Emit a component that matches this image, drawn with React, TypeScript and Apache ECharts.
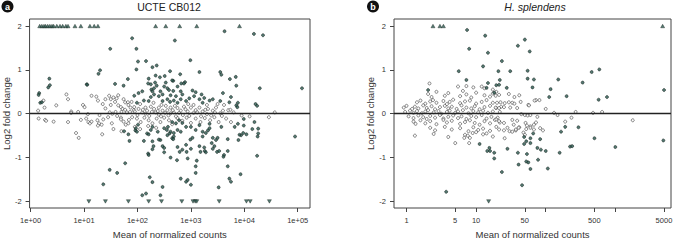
import React, { useEffect, useRef } from "react";
import * as echarts from "echarts";

// ---------- Panel a: UCTE CB012 (x = log10 mean of normalized counts, y = log2 fold change)
const aUpLogMean = [0.17, 0.21, 0.25, 0.28, 0.32, 0.36, 0.4, 0.43, 0.49, 0.55, 0.6, 0.66, 0.7, 0.83, 0.94, 1.11, 1.19, 1.26, 2.34, 2.53, 2.79, 3.11, 3.91];
const aDownLogMean = [1.09, 1.4, 1.83, 2.21, 2.45, 2.83, 3.04, 3.08, 3.11, 3.53, 4.04, 4.11, 4.47];
const aSig: number[][] = [
  [1.9, 1.72], [1.49, 1.48], [1.98, 1.48], [2.7, 1.67], [3.63, 1.88], [4.18, 1.82], [4.35, 1.79], [2.99, 1.22], [2.01, 1.19], [2.16, 1.2],
  [1.3, 0.99], [1.27, 0.91], [1.98, 1.01], [2.28, 1.06], [2.36, 1.1], [2.61, 0.97], [3.16, 0.95], [3.55, 0.95], [3.57, 0.89], [0.35, 0.8],
  [0.36, 0.65], [0.33, 0.6], [1.05, 0.67], [3.84, 0.84], [3.73, 0.79], [3.85, 0.64], [4.29, 0.58], [5.08, 0.58], [0.16, 0.47], [0.15, 0.43],
  [0.18, 0.25], [0.21, 0.26], [4.21, 0.22], [2.21, 0.8], [2.25, 0.67], [2.42, 0.83], [2.51, 0.86], [2.67, 0.75], [2.89, 0.72], [1.82, 0.79],
  [1.58, 0.68], [2.82, 0.69], [2.34, 0.87], [2.65, 0.76], [2.8, 0.9], [2.2, 0.69], [2.33, 0.71], [2.36, 0.64], [2.31, 0.58], [2.26, 0.55],
  [2.53, 0.71], [2.5, 0.62], [2.56, 0.58], [2.59, 0.54], [2.75, 0.62], [2.81, 0.51], [2.84, 0.44], [2.87, 0.69], [2.09, 0.51], [2.02, 0.47],
  [2.28, 0.51], [2.31, 0.44], [2.25, 0.38], [2.43, 0.51], [2.47, 0.44], [2.4, 0.4], [2.67, 0.52], [2.62, 0.42], [2.72, 0.4], [3.03, 0.53],
  [3.09, 0.49], [3.06, 0.4], [3.2, 0.44], [3.25, 0.36], [3.41, 0.33], [3.35, 0.3], [3.6, 0.47], [3.75, 0.38], [3.55, 0.29], [3.16, 0.33],
  [3.22, 0.25], [2.97, 0.35], [2.91, 0.29], [2.81, 0.33], [2.75, 0.25], [2.68, 0.3], [2.56, 0.33], [2.61, 0.27], [2.47, 0.29], [2.12, 0.3],
  [2.21, 0.29], [1.06, 0.66], [1.74, 0.64], [1.94, 0.41], [1.99, 0.25], [3.72, 0.26], [3.88, 0.25], [3.85, 0.19], [3.87, 0.15], [4.24, 0.18],
  [1.75, -0.4], [1.83, -0.47], [1.85, -0.62], [1.96, -0.38], [1.99, -0.41], [1.97, -0.33], [2.01, -0.25], [1.77, -1.13], [1.48, -1.28], [1.62, -1.35],
  [1.36, -1.61], [2.12, -0.62], [2.18, -0.45], [2.21, -0.47], [2.2, -0.91], [2.28, -0.63], [2.3, -0.74], [2.38, -0.41], [2.43, -0.6], [2.47, -0.74],
  [2.5, -0.78], [2.56, -0.49], [2.6, -0.45], [2.65, -0.56], [2.68, -0.52], [2.75, -0.76], [2.79, -0.87], [2.84, -0.82], [2.91, -0.71], [2.92, -0.87],
  [2.62, -1.0], [2.74, -1.06], [2.94, -1.02], [3.0, -0.8], [3.09, -1.2], [3.11, -1.07], [3.16, -0.74], [3.18, -0.87], [3.26, -0.85], [3.39, -0.67],
  [3.44, -0.74], [3.47, -0.6], [3.5, -0.55], [3.49, -0.87], [3.62, -0.94], [3.61, -0.98], [3.69, -0.85], [3.69, -1.2], [3.72, -1.48], [3.75, -1.55],
  [3.89, -0.6], [3.94, -0.49], [4.04, -0.47], [3.93, -1.38], [4.24, -0.96], [4.25, -0.52], [4.26, -0.45], [4.95, -0.52], [2.81, -1.48], [2.91, -1.55],
  [2.94, -1.51], [3.0, -1.62], [3.09, -1.35], [3.52, -1.68], [2.23, -1.45], [2.28, -1.56], [2.16, -1.82], [2.09, -1.86], [2.43, -1.86], [2.47, -1.67],
  [3.22, -0.52], [3.32, -0.38], [3.35, -0.23], [3.82, -0.3], [3.88, -0.23], [4.19, -0.19], [4.26, -0.34], [3.99, -0.12], [3.99, -0.27], [4.15, -0.35],
  [3.98, -0.44], [3.69, -0.58], [2.25, -0.37], [2.28, -0.3], [2.4, -0.59], [2.5, -0.33], [2.55, -0.37], [2.57, -0.3], [2.65, -0.19], [2.72, -0.22],
  [2.78, -0.15], [2.84, -0.21], [2.62, -0.41], [2.68, -0.44], [2.75, -0.37], [2.81, -0.41], [2.91, -0.3], [2.67, -0.58], [3.0, -0.3], [3.09, -0.37],
  [3.16, -0.26], [3.22, -0.41], [3.28, -0.44], [3.35, -0.33], [3.41, -0.55], [3.57, -0.3], [3.91, -0.48], [2.99, -0.59], [3.03, -0.55], [2.28, -0.81],
  [2.5, -0.88], [3.25, -0.77], [3.28, -0.88], [3.41, -0.8], [3.53, -0.85], [2.21, -0.94],
];
const aNs: number[][] = [
  [0.24, 0.3], [0.26, 0.14], [0.48, 0.19], [0.67, 0.44], [0.7, 0.33], [1.14, 0.41], [1.23, 0.39], [1.26, 0.3], [0.98, 0.2], [1.01, 0.15],
  [0.76, 0.05], [0.76, 0.02], [0.89, 0.04], [1.07, -0.01], [1.29, -0.03], [1.47, 0.41], [1.5, 0.33], [1.55, 0.37], [1.4, 0.33], [1.64, 0.42],
  [1.61, 0.35], [1.58, 0.27], [1.74, 0.33], [1.77, 0.26], [1.82, 0.26], [1.64, 0.19], [1.69, 0.15], [1.72, 0.11], [1.48, 0.03], [1.53, 0.0],
  [1.59, 0.04], [1.7, 0.04], [1.8, 0.03], [1.86, 0.04], [1.83, 0.2], [1.89, 0.27], [1.94, 0.15], [0.15, -0.11], [0.27, -0.14], [0.29, -0.16],
  [0.43, -0.18], [0.7, -0.19], [0.94, -0.14], [1.04, -0.11], [1.08, -0.19], [1.11, -0.22], [1.14, -0.18], [1.25, -0.15], [1.28, -0.22], [1.33, -0.25],
  [1.26, -0.27], [1.36, -0.13], [1.52, -0.22], [0.85, -0.44], [0.9, -0.55], [1.34, -0.47], [1.69, -0.09], [1.69, -0.13], [1.74, -0.18], [1.78, -0.25],
  [1.83, -0.22], [1.84, -0.14], [0.14, 0.07], [1.87, 0.14], [1.93, 0.08], [2.02, 0.11], [2.09, 0.03], [2.15, 0.14], [2.18, 0.07], [2.25, 0.16],
  [2.31, 0.11], [2.34, 0.03], [2.4, 0.14], [2.47, 0.07], [2.53, 0.18], [2.56, 0.08], [2.62, 0.14], [2.68, 0.03], [2.75, 0.13], [2.81, 0.07],
  [2.87, 0.16], [2.94, 0.05], [3.0, 0.14], [3.09, 0.08], [3.16, 0.14], [3.22, 0.05], [3.32, 0.11], [3.41, 0.07], [3.47, 0.14], [3.6, 0.07],
  [3.7, 0.08], [1.9, -0.08], [1.99, -0.11], [2.06, -0.19], [2.13, -0.09], [2.21, -0.15], [2.28, -0.22], [2.36, -0.11], [2.43, -0.19], [2.5, -0.09],
  [2.59, -0.15], [2.65, -0.24], [2.75, -0.1], [2.84, -0.16], [2.92, -0.09], [3.0, -0.21], [3.09, -0.11], [3.18, -0.19], [3.26, -0.1], [3.36, -0.15],
  [3.44, -0.08], [3.52, -0.19], [3.66, -0.11], [3.75, -0.19], [2.05, 0.22], [2.3, 0.25], [2.45, 0.2], [2.7, 0.18], [2.95, 0.22], [3.05, 0.2],
  [3.3, 0.2], [3.5, 0.22], [3.62, 0.2], [2.15, 0.0], [2.4, -0.02], [2.62, 0.01], [2.85, -0.03], [3.05, 0.02], [3.3, -0.01], [3.55, 0.01],
  [3.8, 0.03], [3.95, -0.04], [4.1, -0.06], [4.57, 0.03], [4.46, -0.08], [3.74, 0.09], [1.95, -0.3], [2.05, -0.35], [2.2, -0.28], [2.35, -0.32],
  [1.7, -0.4], [1.55, -0.35], [1.95, 0.05], [2.0, -0.03], [2.1, 0.09], [2.22, -0.05], [2.27, 0.04], [2.38, 0.06], [2.44, -0.06], [2.52, 0.02],
  [2.58, -0.04], [2.66, 0.08], [2.72, -0.06], [2.78, 0.02], [2.9, 0.1], [2.97, -0.05], [3.12, 0.03], [3.19, -0.06], [3.27, 0.09], [3.38, -0.04],
  [3.45, 0.03], [3.58, -0.05], [1.4, 0.12], [1.45, -0.08], [1.62, -0.05], [1.77, 0.09], [1.5, 0.2], [1.35, 0.22],
];

// ---------- Panel b: H. splendens
const bUpLogMean = [0.38, 0.48, 0.53, 3.68];
const bDownLogMean = [1.18];
const bSig: number[][] = [
  [0.87, 1.91], [1.13, 1.78], [0.9, 1.48], [1.17, 1.39], [1.6, 1.55], [1.7, 1.69], [1.77, 1.42], [1.37, 1.2], [1.1, 1.08], [0.75, 0.97],
  [1.32, 0.97], [1.49, 0.97], [1.74, 0.98], [1.74, 0.8], [1.83, 0.78], [1.81, 0.6], [2.18, 0.78], [2.07, 0.56], [2.05, 0.38], [2.3, 0.4],
  [2.53, 0.71], [2.66, 0.95], [2.77, 1.01], [2.76, 0.32], [2.88, 0.38], [3.7, 0.54], [1.34, 0.77], [1.29, 0.65], [1.33, 0.66], [1.44, 0.59],
  [1.26, 0.48], [1.17, 0.7], [1.15, 0.59], [0.86, 0.77], [0.31, 0.54], [2.22, -0.41], [2.47, -0.31], [2.7, -0.56], [1.82, -0.45], [1.78, -0.56],
  [1.92, -0.58], [1.69, -0.53], [1.72, -0.63], [1.69, -0.69], [1.78, -0.67], [1.88, -0.78], [1.93, -0.82], [2.0, -0.85], [2.2, -0.89], [2.35, -0.75],
  [2.38, -0.74], [1.45, -0.8], [1.6, -0.89], [1.73, -0.92], [1.26, -0.89], [1.26, -1.02], [1.72, -1.09], [1.75, -1.11], [1.89, -1.05], [1.61, -1.16],
  [1.78, -1.26], [2.03, -1.25], [1.37, -1.33], [1.66, -1.63], [0.57, -1.78], [1.19, -0.78], [1.2, -0.85], [1.16, -0.85], [2.28, -0.3], [3.0, -0.76],
  [3.69, -0.61], [1.05, -0.69],
];
const bNs: number[][] = [
  [0.33, 0.69], [0.74, 0.62], [0.86, 0.63], [0.96, 0.6], [1.08, 0.62], [1.12, 0.58], [1.24, 0.55],
  [0.31, 0.45], [0.36, 0.38], [0.43, 0.5], [0.55, 0.41], [0.6, 0.47], [0.77, 0.4], [0.81, 0.52], [0.86, 0.44], [0.93, 0.37], [1.0, 0.48],
  [1.12, 0.42], [1.2, 0.39], [1.24, 0.46], [1.29, 0.5],
  [0.15, 0.26], [0.2, 0.3], [0.27, 0.23], [0.34, 0.28], [0.38, 0.31], [0.43, 0.25], [0.53, 0.29], [0.58, 0.22], [0.62, 0.27], [0.67, 0.32],
  [0.77, 0.24], [0.84, 0.28], [0.91, 0.3], [1.0, 0.23], [1.08, 0.27], [1.15, 0.31], [1.24, 0.25],
  [-0.04, 0.14], [0.0, 0.18], [0.08, 0.11], [0.12, 0.16], [0.17, 0.12], [0.24, 0.19], [0.29, 0.13], [0.36, 0.17], [0.41, 0.1], [0.48, 0.15],
  [0.55, 0.18], [0.6, 0.12], [0.65, 0.16], [0.72, 0.11], [0.79, 0.19], [0.86, 0.14], [0.93, 0.12], [0.98, 0.17], [1.05, 0.1], [1.12, 0.15],
  [1.2, 0.18], [1.29, 0.13], [1.36, 0.16],
  [-0.02, 0.04], [0.05, 0.07], [0.1, 0.02], [0.15, 0.06], [0.22, 0.01], [0.27, 0.05], [0.31, 0.08], [0.39, 0.03], [0.46, 0.06], [0.5, 0.0],
  [0.58, 0.04], [0.62, 0.07], [0.7, 0.02], [0.74, 0.05], [0.81, 0.08], [0.89, 0.01], [0.96, 0.06], [1.03, 0.03], [1.1, 0.07], [1.17, 0.02],
  [1.24, 0.05], [1.34, 0.04],
  [0.03, -0.06], [0.1, -0.1], [0.17, -0.04], [0.24, -0.08], [0.29, -0.12], [0.34, -0.05], [0.41, -0.09], [0.48, -0.03], [0.53, -0.11], [0.6, -0.07],
  [0.67, -0.04], [0.74, -0.1], [0.79, -0.06], [0.86, -0.12], [0.93, -0.05], [1.0, -0.08], [1.08, -0.03], [1.15, -0.11], [1.22, -0.07], [1.31, -0.09],
  [0.1, -0.18], [0.2, -0.15], [0.27, -0.22], [0.34, -0.17], [0.43, -0.24], [0.53, -0.14], [0.58, -0.2], [0.65, -0.16], [0.77, -0.23], [0.84, -0.19],
  [0.91, -0.15], [0.98, -0.21], [1.05, -0.25], [1.12, -0.17], [1.2, -0.22], [1.27, -0.14], [1.34, -0.2],
  [0.34, -0.32], [0.41, -0.38], [0.55, -0.3], [0.65, -0.36], [0.77, -0.33], [0.89, -0.4], [0.96, -0.31], [1.03, -0.37], [1.1, -0.34], [1.2, -0.39],
  [1.29, -0.3], [0.12, -0.5], [0.39, -0.46], [0.6, -0.53], [0.84, -0.48], [0.91, -0.55], [1.1, -0.47], [1.24, -0.52], [0.7, -0.67], [0.9, -0.67],
  [0.13, -0.23], [0.83, -0.55], [0.88, -0.5], [0.95, -0.44], [1.0, -0.42], [1.15, -0.45], [1.48, -0.4], [1.57, -0.38], [1.62, -0.31], [1.72, -0.35],
  [1.78, -0.29], [1.83, -0.25], [1.92, -0.33],
  [1.91, 0.31], [1.86, 0.31], [1.75, 0.2], [2.0, 0.11], [2.12, 0.02], [2.43, 0.04], [2.68, 0.02], [2.81, 0.04], [1.64, 0.27], [1.28, 0.41],
  [1.33, 0.43], [1.3, 0.25], [1.35, 0.26], [1.41, 0.24], [1.47, 0.26], [1.52, 0.25], [1.55, 0.23], [1.28, 0.14], [1.33, 0.13], [1.4, 0.15],
  [1.49, 0.14], [1.59, 0.13], [1.76, 0.19], [1.84, 0.3], [2.17, -0.03], [1.65, -0.01], [1.7, -0.03], [1.74, -0.04], [1.78, -0.03], [1.29, -0.13],
  [1.33, -0.17], [1.4, -0.21], [1.52, -0.14], [1.59, -0.16], [1.54, -0.25], [1.71, -0.21], [1.73, -0.27], [1.78, -0.32], [1.83, -0.36], [1.86, -0.2],
  [1.88, -0.07], [1.33, -0.36], [1.4, -0.38], [1.45, -0.32], [1.52, -0.41], [1.57, -0.36], [1.61, -0.32], [1.68, -0.43], [1.7, -0.48], [1.96, -0.38],
  [2.28, -0.18], [2.37, -0.09], [1.41, -0.56], [3.25, -0.15], [1.47, 0.45], [1.55, 0.38], [1.62, 0.42],
];

// ---------- Axis ticks
const LFC_CAP = 2;
const yTicks = [-2, -1, 0, 1, 2];
const aXTickExponents = [0, 1, 2, 3, 4, 5];
const bXTickCounts = [1, 5, 10, 50, 100, 500, 1000, 5000];
const bXLabelCounts = [1, 5, 10, 50, 500, 5000];

const FONT = "'Liberation Sans', Arial, Helvetica, sans-serif";
const TEAL = "#2a5a50";
const DARK = "#18221f";
const AXIS = "#444";

function yAxisFor(gridIndex: number) {
  return {
    gridIndex,
    type: "value",
    min: -2.15,
    max: 2.16,
    axisLine: { show: false, onZero: false },
    splitLine: { show: false },
    axisTick: { show: true, inside: false, length: 4, lineStyle: { color: AXIS, width: 1 }, customValues: yTicks },
    axisLabel: { customValues: yTicks, fontSize: 7.5, color: "#333", margin: 8, fontFamily: FONT },
    name: "Log2 fold change",
    nameLocation: "middle",
    nameGap: 17,
    nameRotate: 90,
    nameTextStyle: { fontSize: 9.5, color: "#333", fontFamily: FONT },
  };
}

function xAxisCommon(gridIndex: number, min: number, max: number, ticks: number[], labels: number[], fmt: (v: number) => string) {
  return {
    gridIndex,
    type: "value",
    min,
    max,
    axisLine: { show: false, onZero: false },
    splitLine: { show: false },
    axisTick: { show: true, inside: false, length: 4, lineStyle: { color: AXIS }, customValues: ticks },
    axisLabel: { customValues: labels, formatter: fmt, fontSize: 7.5, color: "#333", margin: 8, fontFamily: FONT },
    name: "Mean of normalized counts",
    nameLocation: "middle",
    nameGap: 21,
    nameTextStyle: { fontSize: 9.5, color: "#333", fontFamily: FONT },
  };
}

function pointSeries(xi: number, sig: number[][], ns: number[][], up: number[], down: number[]) {
  return [
    {
      type: "scatter",
      xAxisIndex: xi,
      yAxisIndex: xi,
      symbol: "circle",
      symbolSize: 3,
      data: ns,
      itemStyle: { color: "#ffffff", borderColor: "#2a2a2a", borderWidth: 0.7 },
      silent: true,
      z: 2,
    },
    {
      type: "scatter",
      xAxisIndex: xi,
      yAxisIndex: xi,
      symbol: "circle",
      symbolSize: 3,
      data: sig,
      itemStyle: { color: TEAL, borderColor: DARK, borderWidth: 0.7 },
      silent: true,
      z: 3,
    },
    {
      type: "scatter",
      xAxisIndex: xi,
      yAxisIndex: xi,
      symbol: "triangle",
      symbolSize: [4, 3.5],
      data: up.map((m) => [m, LFC_CAP]),
      itemStyle: { color: TEAL, borderColor: DARK, borderWidth: 0.5 },
      silent: true,
      z: 3,
    },
    {
      type: "scatter",
      xAxisIndex: xi,
      yAxisIndex: xi,
      symbol: "triangle",
      symbolRotate: 180,
      symbolSize: [4, 3.5],
      data: down.map((m) => [m, -LFC_CAP]),
      itemStyle: { color: TEAL, borderColor: DARK, borderWidth: 0.5 },
      silent: true,
      z: 3,
      markLine: {
        silent: true,
        symbol: ["none", "none"],
        label: { show: false },
        lineStyle: { color: "#222", width: 1.3, type: "solid" },
        data: [{ yAxis: 0 }],
        z: 4,
      },
    },
  ];
}

export default function App() {
  const ref = useRef<HTMLDivElement>(null);
  useEffect(() => {
    const chart = echarts.init(ref.current!, null, { renderer: "svg" });
    const bTickVals = bXTickCounts.map((c) => Math.log10(c));
    const bLabelVals = bXLabelCounts.map((c) => Math.log10(c));
    const option: any = {
      animation: false,
      backgroundColor: "#ffffff",
      grid: [
        { left: 28, top: 19, width: 282, height: 195, show: true, borderColor: AXIS, borderWidth: 1, backgroundColor: "transparent" },
        { left: 394, top: 19, width: 277, height: 195, show: true, borderColor: AXIS, borderWidth: 1, backgroundColor: "transparent" },
      ],
      xAxis: [
        xAxisCommon(0, -0.02, 5.23, aXTickExponents, aXTickExponents, (v: number) => "1e+0" + Math.round(v)),
        xAxisCommon(1, -0.18, 3.8, bTickVals, bLabelVals, (v: number) => String(Math.round(Math.pow(10, v)))),
      ],
      yAxis: [yAxisFor(0), yAxisFor(1)],
      series: [
        ...pointSeries(0, aSig, aNs, aUpLogMean, aDownLogMean),
        ...pointSeries(1, bSig, bNs, bUpLogMean, bDownLogMean),
      ],
      graphic: [
        { type: "circle", shape: { cx: 7.5, cy: 6.5, r: 6 }, style: { fill: "#111" } },
        { type: "text", x: 7.5, y: 6.5, style: { text: "a", fill: "#fff", fontSize: 9, fontWeight: "bold", fontFamily: FONT, align: "center", verticalAlign: "middle" } },
        { type: "circle", shape: { cx: 373, cy: 6.5, r: 6 }, style: { fill: "#111" } },
        { type: "text", x: 373, y: 6.5, style: { text: "b", fill: "#fff", fontSize: 9, fontWeight: "bold", fontFamily: FONT, align: "center", verticalAlign: "middle" } },
        { type: "text", x: 169, y: 6.5, style: { text: "UCTE CB012", fill: "#222", fontSize: 10.5, fontFamily: FONT, align: "center", verticalAlign: "middle" } },
        { type: "text", x: 535, y: 6.5, style: { text: "H. splendens", fill: "#222", fontSize: 10.5, fontStyle: "italic", fontFamily: FONT, align: "center", verticalAlign: "middle" } },
      ],
    };
    chart.setOption(option);
    return () => chart.dispose();
  }, []);
  return (
    <div
      ref={ref}
      style={{ position: "fixed", left: 0, top: 0, width: 677, height: 244, background: "#fff" }}
    />
  );
}
